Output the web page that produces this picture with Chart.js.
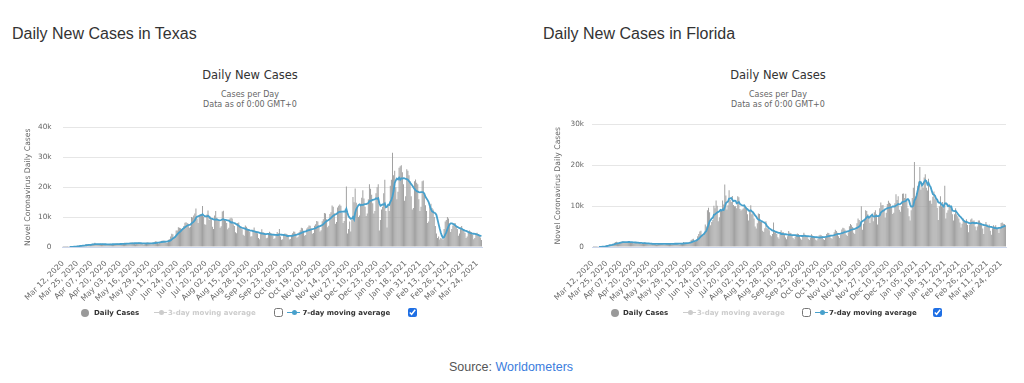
<!DOCTYPE html>
<html>
<head>
<meta charset="utf-8">
<script src="https://cdn.jsdelivr.net/npm/chart.js@4.4.0/dist/chart.umd.min.js"></script>
<style>
html,body{margin:0;padding:0;background:#fff;}
body{width:1024px;height:383px;position:relative;overflow:hidden;font-family:"DejaVu Sans",sans-serif;}
.abs{position:absolute;white-space:nowrap;}
.head{font-family:"Liberation Sans",Arial,sans-serif;font-size:16px;line-height:20px;color:#333;top:23.5px;}
.ctitle{font-size:11.5px;line-height:14px;color:#333;text-align:center;width:500px;top:68.3px;}
.csub{font-size:8px;line-height:10.4px;color:#666;text-align:center;width:500px;top:89.5px;}
canvas{position:absolute;top:112px;}
.leg{font-size:7px;font-weight:bold;line-height:10px;color:#333;top:307.5px;}
.leg.off{color:#ccc;}
.dot{width:8px;height:8px;border-radius:50%;background:#999;top:308.5px;}
.sym{width:13px;height:1.6px;top:311.7px;}
.sym i{position:absolute;left:4.5px;top:-1.7px;width:5px;height:5px;border-radius:50%;background:inherit;}
.cb{margin:0;width:9px;height:9px;top:308px;accent-color:#1f6fe4;}
.src{font-family:"Liberation Sans",Arial,sans-serif;font-size:12.5px;line-height:15px;color:#555;left:0;width:1022px;text-align:center;top:360px;}
.src a{color:#3b7ddd;text-decoration:none;}
</style>
</head>
<body>
<div class="abs head" style="left:12px">Daily New Cases in Texas</div>
<div class="abs head" style="left:543px">Daily New Cases in Florida</div>

<div class="abs ctitle" style="left:0">Daily New Cases</div>
<div class="abs csub" style="left:0">Cases per Day<br>Data as of 0:00 GMT+0</div>
<div class="abs ctitle" style="left:528px">Daily New Cases</div>
<div class="abs csub" style="left:528px">Cases per Day<br>Data as of 0:00 GMT+0</div>

<canvas id="tx" width="500" height="200" style="left:0"></canvas>
<canvas id="fl" width="496" height="200" style="left:528px"></canvas>

<div class="abs dot" style="left:81px"></div>
<div class="abs leg" style="left:94px">Daily Cases</div>
<div class="abs sym" style="left:154px;background:#ccc"><i></i></div>
<div class="abs leg off" style="left:168px">3-day moving average</div>
<input type="checkbox" class="abs cb" style="left:274px">
<div class="abs sym" style="left:287px;background:#47a0cc"><i></i></div>
<div class="abs leg" style="left:302.5px">7-day moving average</div>
<input type="checkbox" class="abs cb" style="left:408px" checked>

<div class="abs dot" style="left:611px"></div>
<div class="abs leg" style="left:623px">Daily Cases</div>
<div class="abs sym" style="left:683px;background:#ccc"><i></i></div>
<div class="abs leg off" style="left:697px">3-day moving average</div>
<input type="checkbox" class="abs cb" style="left:802px">
<div class="abs sym" style="left:815px;background:#47a0cc"><i></i></div>
<div class="abs leg" style="left:829px">7-day moving average</div>
<input type="checkbox" class="abs cb" style="left:933px" checked>

<div class="abs src">Source: <a href="#">Worldometers</a></div>

<script>
// ---- DATA (daily new cases, in thousands) ----
const startDate = '2020-03-12';

const xTickLabels = ['Mar 12, 2020','Mar 25, 2020','Apr 07, 2020','Apr 20, 2020','May 03, 2020','May 16, 2020',
  'May 29, 2020','Jun 11, 2020','Jun 24, 2020','Jul 07, 2020','Jul 20, 2020','Aug 02, 2020','Aug 15, 2020',
  'Aug 28, 2020','Sep 10, 2020','Sep 23, 2020','Oct 06, 2020','Oct 19, 2020','Nov 01, 2020','Nov 14, 2020',
  'Nov 27, 2020','Dec 10, 2020','Dec 23, 2020','Jan 05, 2021','Jan 18, 2021','Jan 31, 2021','Feb 13, 2021',
  'Feb 26, 2021','Mar 11, 2021','Mar 24, 2021'];

const texasYTickLabels = ['0','10k','20k','30k','40k'];
const floridaYTickLabels = ['0','10k','20k','30k'];

const texasDaily = [
  0.01,0.02,0.02,0.03,0.03,0.05,0.06,
  0.08,0.10,0.12,0.11,0.15,0.30,0.40,
  0.45,0.50,0.55,0.40,0.50,0.60,0.65,
  0.90,0.95,0.75,0.60,0.70,1.00,1.05,
  1.10,1.40,0.90,0.70,0.75,1.00,1.10,
  1.00,1.05,0.90,0.65,0.70,0.95,1.00,
  1.00,1.10,0.95,0.70,0.75,1.00,1.10,
  1.15,1.20,1.05,0.75,0.80,1.10,1.25,
  1.40,1.30,1.20,0.90,0.95,1.25,1.40,
  1.50,1.45,1.30,0.95,1.00,1.35,1.50,
  1.40,1.30,1.20,0.85,0.90,1.20,1.40,
  1.50,1.40,1.20,0.90,0.95,1.40,1.60,
  1.90,1.80,1.60,1.20,1.30,1.80,2.10,
  2.20,2.10,1.90,1.40,1.50,2.40,2.60,
  3.50,4.40,4.30,3.00,3.30,5.50,5.50,
  6.60,6.40,6.30,6.00,6.10,7.00,8.10,
  8.30,8.00,7.80,6.40,6.80,10.00,9.90,
  10.50,11.20,12.90,9.50,8.00,10.70,11.00,
  11.00,13.70,10.10,7.60,7.40,10.90,12.20,
  9.00,10.20,9.40,6.80,6.00,10.50,12.00,
  9.80,8.90,8.70,6.40,6.90,11.90,12.10,
  9.00,8.70,8.00,5.90,6.40,9.50,9.80,
  9.50,7.60,7.00,4.90,4.60,8.00,8.20,
  6.90,6.50,5.90,4.10,3.80,7.20,6.80,
  6.20,5.90,5.10,3.50,3.60,5.80,6.50,
  5.40,5.20,4.60,3.00,2.60,4.90,5.90,
  5.00,4.80,4.20,2.90,3.10,4.60,5.10,
  4.80,4.50,3.90,2.70,2.90,4.30,5.00,
  4.60,6.00,3.50,2.40,2.60,4.00,4.50,
  4.40,4.30,3.60,2.50,2.70,4.10,4.60,
  5.20,5.10,4.40,3.10,3.40,5.00,5.60,
  6.40,6.30,5.40,3.80,4.00,6.20,6.60,
  7.20,7.10,6.20,4.40,4.70,7.10,7.60,
  8.70,8.50,7.30,5.20,5.60,8.60,9.30,
  11.40,11.20,9.30,6.60,7.10,11.00,11.60,
  13.90,13.50,11.30,7.80,8.40,13.20,13.80,
  14.20,13.80,11.50,8.00,8.70,12.80,20.20,
  4.50,6.00,8.50,5.20,9.00,16.70,15.00,
  19.60,14.80,13.00,10.00,10.50,14.50,16.50,
  19.00,16.20,13.50,10.40,11.20,16.00,21.00,
  19.50,17.50,14.60,11.20,12.00,18.00,20.00,
  21.00,5.50,9.00,12.50,13.50,18.00,22.50,
  12.00,6.50,14.00,12.00,20.50,22.50,31.50,
  24.00,25.50,20.00,16.00,18.50,26.50,27.00,
  27.30,25.00,21.00,15.50,17.00,26.00,25.50,
  24.00,22.00,17.00,12.50,13.00,22.00,22.60,
  21.50,21.00,16.00,12.00,13.50,22.00,22.20,
  18.00,14.00,12.00,8.00,8.50,13.50,14.50,
  13.00,12.50,10.00,7.00,4.50,3.00,3.50,
  2.50,3.00,2.80,2.50,6.00,8.50,9.00,
  10.00,9.50,7.50,5.00,6.00,7.20,7.80,
  8.00,7.00,6.00,3.80,4.50,6.50,7.00,
  6.00,5.80,4.80,3.00,3.50,5.00,5.50,
  5.20,5.00,4.20,2.60,3.00,4.50,4.80,
  4.20,3.80,3.20,2.30
];

const floridaDaily = [
  0.00,0.01,0.02,0.02,0.03,0.04,0.05,
  0.07,0.10,0.12,0.10,0.15,0.30,0.45,
  0.50,0.55,0.70,0.50,0.55,0.80,0.90,
  1.20,1.30,1.10,0.90,1.00,1.20,1.30,
  1.40,1.30,1.20,1.00,1.10,1.30,1.40,
  1.20,1.15,1.00,0.90,0.95,1.10,1.20,
  1.05,1.00,0.90,0.75,0.80,1.00,1.10,
  0.90,0.85,0.75,0.60,0.65,0.85,0.95,
  0.85,0.80,0.70,0.55,0.60,0.80,0.90,
  0.85,0.80,0.70,0.55,0.60,0.85,0.90,
  0.90,0.85,0.75,0.60,0.65,0.85,0.95,
  0.90,0.90,0.80,0.60,0.70,0.85,0.95,
  1.20,1.10,1.00,0.80,0.90,1.10,1.30,
  1.70,1.90,2.00,1.30,1.40,1.80,2.60,
  3.20,3.80,4.00,2.90,2.90,3.20,5.50,
  5.00,9.00,9.60,8.50,5.30,6.10,6.60,
  10.10,9.50,11.40,10.10,6.30,7.30,8.90,
  8.90,11.40,10.40,15.30,12.60,9.20,10.20,
  13.90,11.50,11.00,12.50,10.30,10.00,10.00,
  9.50,12.40,12.20,9.30,8.90,9.20,9.40,
  10.00,9.60,9.60,8.00,6.50,9.00,10.20,
  8.00,8.30,7.00,5.00,4.50,5.80,8.20,
  8.10,6.20,6.40,4.00,3.70,4.60,6.30,
  4.60,4.50,4.10,2.90,2.60,3.20,6.00,
  3.60,3.80,3.20,2.40,2.00,3.20,4.10,
  3.60,3.60,3.00,2.30,1.90,2.60,3.90,
  3.50,3.40,2.90,2.20,1.90,2.50,3.10,
  3.30,3.20,2.80,2.10,1.80,2.50,3.50,
  3.00,2.90,2.70,2.00,1.70,2.30,3.10,
  2.80,2.70,2.40,1.80,1.60,2.00,2.80,
  3.00,2.90,2.60,1.90,1.70,2.30,3.20,
  3.50,3.40,3.00,2.20,2.00,2.60,3.60,
  4.20,3.90,3.50,2.60,2.20,3.10,4.30,
  4.70,4.60,4.20,3.00,2.70,3.60,5.10,
  5.60,5.30,4.90,3.50,3.20,4.30,5.80,
  7.00,6.60,6.20,10.00,4.20,5.70,6.80,
  9.00,8.80,8.00,7.60,5.90,7.50,8.20,
  6.30,8.50,9.00,8.00,5.50,7.50,9.50,
  10.90,10.20,10.30,9.00,7.20,8.40,10.50,
  11.30,10.80,10.60,9.70,8.10,8.40,10.70,
  12.90,11.50,12.40,9.10,8.60,10.00,13.00,
  13.10,12.00,13.00,11.50,9.50,7.50,6.50,
  9.00,12.00,14.50,20.80,12.30,13.20,15.00,
  16.00,19.60,14.00,15.50,14.50,17.00,17.80,
  14.50,13.80,16.70,11.30,11.40,10.60,12.30,
  13.60,11.70,12.00,9.60,6.60,10.00,12.40,
  10.00,11.00,9.50,15.00,7.00,8.40,9.00,
  10.50,10.00,9.50,8.00,6.50,8.00,9.50,
  8.00,7.50,7.00,6.00,4.80,5.70,7.00,
  6.40,6.20,6.80,5.40,3.60,5.50,6.70,
  7.00,6.40,6.50,5.00,4.10,5.00,6.50,
  6.50,6.00,5.80,4.50,3.20,5.10,6.10,
  5.50,5.10,5.50,4.00,3.00,4.60,5.30,
  5.00,5.30,4.60,4.50,3.40,4.60,5.90,
  6.00,5.70,5.60,5.30
];

// ---- helpers ----
const MONTHS = ['Jan','Feb','Mar','Apr','May','Jun','Jul','Aug','Sep','Oct','Nov','Dec'];
function dateCategories(start, n) {
  const d0 = new Date(start + 'T00:00:00Z');
  const out = [];
  for (let i = 0; i < n; i++) {
    const d = new Date(d0.getTime() + i * 86400000);
    out.push(MONTHS[d.getUTCMonth()] + ' ' + String(d.getUTCDate()).padStart(2, '0') + ', ' + d.getUTCFullYear());
  }
  return out;
}
// 7-day trailing moving average of the daily series (what the blue line shows)
function sevenDayAverage(arr) {
  return arr.map((v, i) => {
    if (i < 6) return null;
    let s = 0;
    for (let k = i - 6; k <= i; k++) s += arr[k];
    return s / 7;
  });
}

Chart.defaults.font.family = '"DejaVu Sans", sans-serif';
Chart.defaults.color = '#666';

function makeChart(id, daily, yLabels, cfg) {
  const categories = dateCategories(startDate, daily.length);
  const yMax = (yLabels.length - 1) * 10;
  return new Chart(document.getElementById(id), {
    type: 'bar',
    data: {
      labels: categories,
      datasets: [
        { type: 'bar', label: 'Daily Cases', data: daily, backgroundColor: '#a0a0a0',
          barPercentage: 0.9, categoryPercentage: 1.0, order: 2 },
        { type: 'line', label: '7-day moving average', data: sevenDayAverage(daily),
          borderColor: '#47a0cc', borderWidth: 1.8, pointRadius: 0, tension: 0, fill: false, order: 1 }
      ]
    },
    options: {
      responsive: false, animation: false, devicePixelRatio: 1,
      layout: { padding: { top: 9, right: 18, left: 0, bottom: 0 } },
      plugins: { legend: { display: false }, tooltip: { enabled: false }, title: { display: false } },
      scales: {
        x: {
          grid: { display: false },
          border: { display: true, color: '#ccd6eb', width: 1 },
          ticks: {
            autoSkip: false, minRotation: 45, maxRotation: 45, padding: cfg.xPad,
            color: '#666', font: { size: 7.8 },
            callback: (value, index) => xTickLabels.includes(categories[index]) ? categories[index] : ''
          },
          afterFit: (s) => { s.height = 65; }
        },
        y: {
          min: 0, max: yMax,
          grid: { color: '#e6e6e6', lineWidth: 1, drawTicks: false },
          border: { display: false },
          ticks: { stepSize: 10, padding: cfg.yPad, color: '#666', font: { size: 7.3 },
                   callback: (v) => yLabels[Math.round(v / 10)] },
          title: { display: true, text: 'Novel Coronavirus Daily Cases', color: '#666',
                   font: { size: 7.7 }, padding: { top: cfg.titlePad, bottom: 0 } },
          afterFit: (s) => { s.width = cfg.yWidth; }
        }
      }
    }
  });
}

makeChart('tx', texasDaily, texasYTickLabels, { yWidth: 62.5, yPad: 11, titlePad: 22.9, xPad: 4 });
makeChart('fl', floridaDaily, floridaYTickLabels, { yWidth: 64, yPad: 8, titlePad: 25.4, xPad: 4 });
</script>
</body>
</html>
